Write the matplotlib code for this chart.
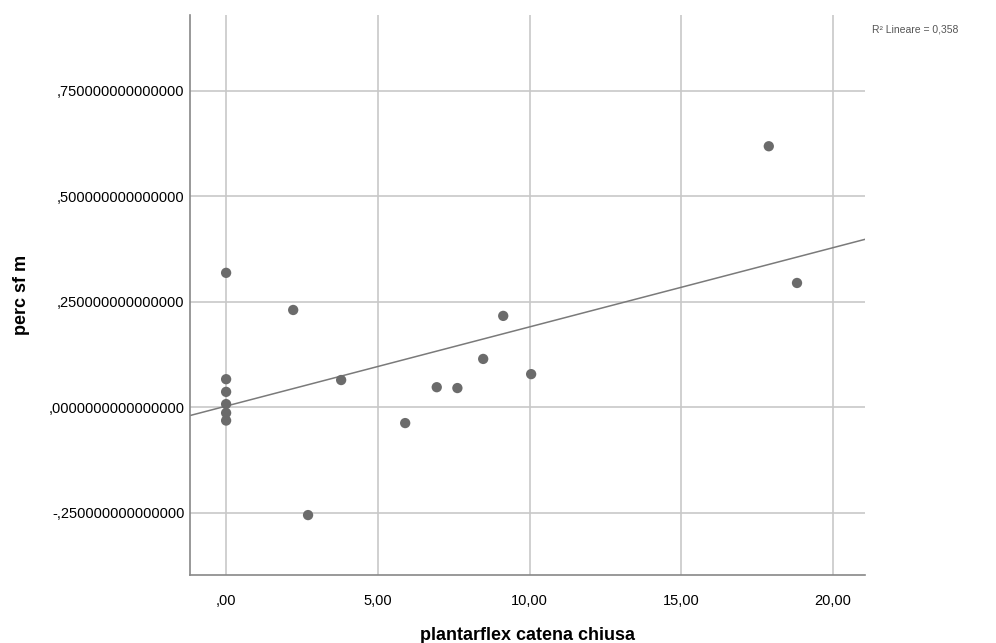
import numpy as np
import matplotlib
matplotlib.use("Agg")
import matplotlib.pyplot as plt

plt.rcParams['font.family'] = ['Liberation Sans', 'DejaVu Sans']

# data
x_vals = [0.0, 0.0, 0.0, 0.0, 0.0, 0.0, 2.21, 2.70, 3.79, 5.90, 6.94, 7.62, 8.47, 9.13, 10.05, 17.88, 18.81]
y_vals = [0.318, 0.066, 0.036, 0.007, -0.014, -0.032, 0.230, -0.256, 0.064, -0.038, 0.047, 0.045, 0.114, 0.216, 0.078, 0.618, 0.294]

x_ticks = [0, 5, 10, 15, 20]
x_ticklabels = [",00", "5,00", "10,00", "15,00", "20,00"]
y_ticks = [-0.25, 0.0, 0.25, 0.5, 0.75]
y_ticklabels = ["-,250000000000000", ",0000000000000000", ",250000000000000", ",500000000000000", ",750000000000000"]

x = np.array(x_vals)
y = np.array(y_vals)

fig = plt.figure(figsize=(9.96, 6.43), dpi=100)
ax = fig.add_axes([190/996, 1-575/643, (865-190)/996, (575-15)/643])

xlim = (-1.19, 21.05)
ylim = (-0.398, 0.929)
ax.set_xlim(*xlim)
ax.set_ylim(*ylim)

ax.set_xticks(x_ticks)
ax.set_xticklabels(x_ticklabels)
ax.set_yticks(y_ticks)
ax.set_yticklabels(y_ticklabels)
ax.grid(True, color='#c8c8c8', linewidth=1.2)
ax.set_axisbelow(True)

slope, intercept = np.polyfit(x, y, 1)
xs = np.array(xlim)
ax.plot(xs, slope * xs + intercept, color='#7a7a7a', linewidth=1.1, zorder=2)

ax.scatter(x, y, s=55, color='#6b6b6b', edgecolors='none', zorder=3)

for s in ['top', 'right']:
    ax.spines[s].set_visible(False)
for s in ['left', 'bottom']:
    ax.spines[s].set_color('#888888')
    ax.spines[s].set_linewidth(1.2)

ax.tick_params(length=0, labelsize=10.5, colors='black')
ax.tick_params(axis='x', pad=14)
ax.tick_params(axis='y', pad=4)

ax.set_xlabel("plantarflex catena chiusa", fontsize=13, fontweight='bold', labelpad=13)
ax.set_ylabel("perc sf m", fontsize=13, fontweight='bold', va='center')
ax.yaxis.set_label_coords((22 - 190) / 675, 0.5)

fig.text(872/996, 1-29/643, "R² Lineare = 0,358", fontsize=7.5, color='#555555', va='center', ha='left')

fig.savefig("out.png", dpi=100, facecolor='white')
